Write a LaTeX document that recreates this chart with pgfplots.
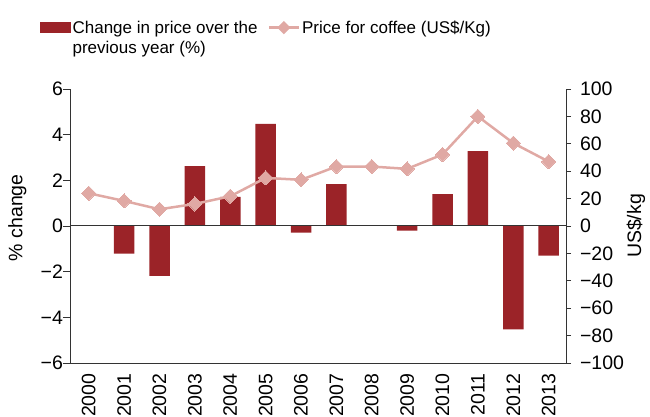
\documentclass[border=0pt]{standalone}
\usepackage{pgfplots}
\pgfplotsset{compat=1.18}
\usepackage{fontspec}
\setmainfont{Liberation Sans}
\definecolor{barred}{HTML}{9B2328}
\definecolor{linepink}{HTML}{E0A9A4}
\definecolor{axgray}{HTML}{333333}

\begin{document}
\begin{tikzpicture}[font=\fontsize{17}{20.5}\selectfont]
\pgfplotsset{
  myaxis/.style={
    scale only axis, width=496pt, height=274pt,
    xmin=-0.53, xmax=13.49,
    tick label style={font=\fontsize{19.5}{22}\selectfont},
    label style={font=\fontsize{19.5}{22}\selectfont},
    axis line style={axgray, line width=0.9pt},
    tick style={axgray, line width=0.9pt},
    tick align=outside,
  }
}
\begin{axis}[myaxis, name=ax,
  axis x line*=bottom, axis y line*=left,
  ymin=-6, ymax=6,
  ytick={-6,-4,-2,0,2,4,6},
  yticklabels={−6,−4,−2,0,2,4,6},
  major tick length=7pt,
  yticklabel style={xshift=3.5pt},
  xtick={0,1,2,3,4,5,6,7,8,9,10,11,12,13},
  xticklabels={2000,2001,2002,2003,2004,2005,2006,2007,2008,2009,2010,2011,2012,2013},
  x tick label style={rotate=90, anchor=east, xshift=0pt},
  major x tick style={draw=none},
  ylabel={\% change},
  ylabel style={at={(axis description cs:-0.106,0.53)}, anchor=center, rotate=0},
  ybar, bar width=20.5pt,
]
\addplot[fill=barred, draw=none] coordinates {
  (0,0) (1,-1.21) (2,-2.18) (3,2.62) (4,1.27) (5,4.47) (6,-0.29)
  (7,1.83) (8,0) (9,-0.2) (10,1.4) (11,3.28) (12,-4.53) (13,-1.3)
};
\draw[axgray, line width=1pt] (axis cs:-0.53,0) -- (axis cs:13.49,0);
\end{axis}

\begin{axis}[myaxis,
  axis x line=none, axis y line*=right,
  ymin=-100, ymax=100,
  ytick={-100,-80,-60,-40,-20,0,20,40,60,80,100},
  yticklabels={−100,−80,−60,−40,−20,0,20,40,60,80,100},
  major tick length=5pt,
  yticklabel style={xshift=5.5pt},
  ylabel={US\$/kg},
  ylabel style={at={(axis description cs:1.141,0.5)}, anchor=center},
  legend style={at={(axis description cs:-0.0665,1.265)}, anchor=north west,
    draw=none, fill=none, font=\fontsize{17}{20.5}\selectfont,
    /tikz/every even column/.append style={column sep=8pt}},
  legend columns=2, legend cell align=left,
]
\addlegendimage{legend image code/.code={\fill[barred] (0pt,-5pt) rectangle (30pt,5pt);}}
\addlegendentry{\parbox[t]{185pt}{\raggedright Change in price over the\\previous year (\%)}}
\addplot[linepink, line width=2.5pt, mark=square*, mark size=5pt,
  mark options={rotate=45, line width=0pt},
  legend image code/.code={\draw[linepink, line width=2.5pt] (0pt,0pt) -- (30pt,0pt);
    \fill[linepink, rotate around={45:(15pt,0pt)}] (11.5pt,-3.5pt) rectangle (18.5pt,3.5pt);}]
coordinates {
  (0,23.9) (1,18.3) (2,12.2) (3,16.1) (4,21.7) (5,35.1) (6,33.7)
  (7,43.4) (8,43.4) (9,41.7) (10,52.2) (11,80) (12,60.5) (13,47)
};
\addlegendentry{Price for coffee (US\$/Kg)}
\end{axis}
\pgfresetboundingbox
\path[use as bounding box] ([xshift=-70pt, yshift=-54pt]ax.south west) rectangle ([xshift=84pt, yshift=89pt]ax.north east);
\end{tikzpicture}
\end{document}
